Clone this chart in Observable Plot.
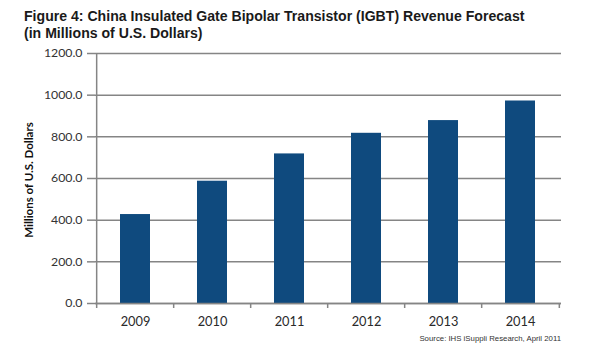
<!DOCTYPE html>
<html>
<head>
<meta charset="utf-8">
<script src="https://cdn.jsdelivr.net/npm/d3@7"></script>
<script src="https://cdn.jsdelivr.net/npm/@observablehq/plot@0.6"></script>
<style>
  html, body { margin: 0; padding: 0; background: #fff; }
  #wrap { position: relative; width: 589px; height: 355px; overflow: hidden; }
  #title { position: absolute; left: 24px; top: 8px; font-family: "Liberation Sans", Arial, sans-serif; font-weight: bold; font-size: 14.1px; line-height: 17px; color: #1a1a1a; }
  #source { position: absolute; right: 28px; top: 334px; font-family: "Liberation Sans", Arial, sans-serif; font-size: 7.8px; color: #333; }
  #ylabel { position: absolute; left: 28px; top: 180px; transform: translate(-50%, -50%) rotate(-90deg); white-space: nowrap; font-family: Lato, sans-serif; font-weight: bold; font-size: 11.5px; color: #111; }
</style>
</head>
<body>
<div id="wrap">
  <div id="title">Figure 4: China Insulated Gate Bipolar Transistor (IGBT) Revenue Forecast<br>(in Millions of U.S. Dollars)</div>
  <div id="ylabel">Millions of U.S. Dollars</div>
  <div id="chart"></div>
  <div id="source">Source: IHS iSuppli Research, April 2011</div>
</div>
<script>
const years = ["2009", "2010", "2011", "2012", "2013", "2014"];
const revenue = [427, 587, 718, 817, 878, 972];
const yTicks = [0, 200, 400, 600, 800, 1000, 1200];

const data = years.map((year, i) => ({year, value: revenue[i]}));

const W = 589, H = 355;
const mL = 95, mR = 28, mT = 53, mB = 52;
const step = (W - mL - mR) / years.length;
const gray = "#858585";

const chart = Plot.plot({
  width: W,
  height: H,
  marginLeft: mL,
  marginRight: mR,
  marginTop: mT,
  marginBottom: mB,
  style: {fontFamily: "Lato, sans-serif", background: "transparent", color: "#333"},
  x: {domain: years, paddingInner: 0.61, paddingOuter: 0.305, label: null},
  y: {domain: [0, 1200], label: null},
  marks: [
    Plot.gridY(yTicks, {stroke: gray, strokeOpacity: 1, strokeWidth: 1.5}),
    Plot.barY(data, {x: "year", y: "value", fill: "#0f4a7e"}),
    Plot.ruleY([0], {stroke: gray, strokeWidth: 1.5}),
    Plot.ruleX([years[0]], {y1: 0, y2: 1200, dx: -step / 2, stroke: gray, strokeWidth: 1.5}),
    Plot.ruleX(years, {y1: 0, y2: 0, insetBottom: -5, dx: -step / 2, stroke: gray, strokeWidth: 1.5}),
    Plot.ruleX([years[years.length - 1]], {y1: 0, y2: 0, insetBottom: -5, dx: step / 2, stroke: gray, strokeWidth: 1.5}),
    Plot.axisY(yTicks, {tickSize: 8, tickPadding: 5, tickFormat: d3.format(".1f"), stroke: gray, strokeWidth: 1.5, fontSize: 12.3, fill: "#333", label: null}),
    Plot.axisX({tickSize: 0, tickPadding: 13, fontSize: 12.8, fill: "#2a2a2a", label: null})
  ]
});
document.getElementById("chart").appendChild(chart);
</script>
</body>
</html>
